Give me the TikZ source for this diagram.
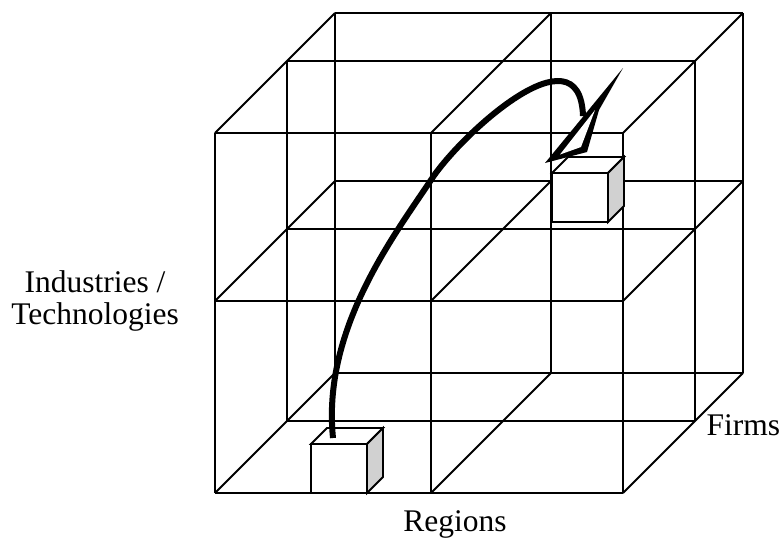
\documentclass[tikz,border=0pt]{standalone}
\usepackage{fontspec}
\setmainfont{Liberation Serif}
\usepackage{tikz}
\usetikzlibrary{calc}
\definecolor{sideface}{gray}{0.82}

\begin{document}
\begin{tikzpicture}[x=1pt,y=-1pt,
	grid/.style={line width=1.8pt},
	cubebox/.style={draw,line width=1.8pt,fill=white,minimum width=56pt,minimum height=49pt,inner sep=0pt,outer sep=0pt},
	axislabel/.style={font=\fontsize{31.5}{31.6}\selectfont,align=center,inner sep=0pt}]
\useasboundingbox (0,0) rectangle (781,539);
\foreach \d in {0,72,120}
	\foreach \y in {133,301,493}
		\draw[grid] (215+\d,\y-\d) -- (623+\d,\y-\d);
\foreach \d/\xs in {0/{215,431,623},72/{215,623},120/{215,431,623}}
	\foreach \x in \xs
		\draw[grid] (\x+\d,133-\d) -- (\x+\d,493-\d);
\foreach \x in {215,431,623}
	\foreach \y in {133,301,493}
		\draw[grid] (\x,\y) -- ++(120,-120);
\node[cubebox] (lowbox) at (339,468.5) {};
\node[cubebox] (highbox) at (580,197.5) {};
\foreach \c in {lowbox,highbox}{
	\filldraw[grid,fill=white] (\c.north west) -- ++(16,-16) -- ($(\c.north east)+(16,-16)$) -- (\c.north east) -- cycle;
	\filldraw[grid,fill=sideface] (\c.north east) -- ++(16,-16) -- ($(\c.south east)+(16,-16)$) -- (\c.south east) -- cycle;
}
\coordinate (src) at ($(lowbox.north)+(-6,-6)$);
\coordinate (bend) at (431,180);
\coordinate (join) at (583,116);
\coordinate (tip) at ($(highbox.north west)+(-7,-10)$);
\draw[line width=6pt] (src) .. controls (322,330) and (393,237) .. (bend)
	.. controls (460,135) and (580,25) .. (join);
\fill (tip) -- (587,152) -- (599,110) -- (623,68) -- cycle;
\fill[white] (560,154.5) -- (581,147) -- (595,110) -- cycle;
\node[axislabel] (industries) at (95,301) {Industries /\\Technologies};
\node[axislabel,anchor=base] (regions) at (455,531.7) {Regions};
\node[axislabel,anchor=base] (firms) at (743.3,435) {Firms};
\end{tikzpicture}
\end{document}
